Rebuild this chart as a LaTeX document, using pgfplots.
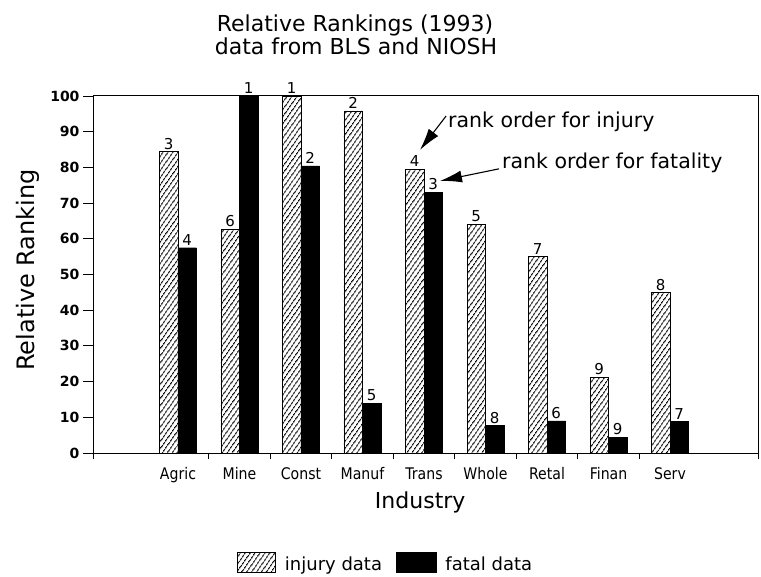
\documentclass[border=0pt]{standalone}
\usepackage{pgfplots}
\pgfplotsset{compat=1.18}
\usepackage{pgfplotstable}
\usepackage{fontspec}
\setmainfont{DejaVu Sans}
\newfontfamily\condfont[FakeStretch=0.88]{DejaVu Sans}
\usetikzlibrary{patterns.meta,arrows.meta}

\pgfplotstableread{
x y r
0 84.4 3
1 62.7 6
2 100 1
3 95.8 2
4 79.5 4
5 64.1 5
6 55.0 7
7 21.2 9
8 44.9 8
}\injury

\pgfplotstableread{
x y r
0 57.5 4
1 100 1
2 80.4 2
3 13.9 5
4 73.0 3
5 7.7 8
6 9.0 6
7 4.4 9
8 8.9 7
}\fatal

\begin{document}
\begin{tikzpicture}
\useasboundingbox (0bp,0bp) rectangle (761bp,577bp);
\fill[white] (0bp,0bp) rectangle (761bp,577bp);
\node[anchor=base,inner sep=0pt,font=\fontsize{22bp}{26bp}\selectfont] at (355bp,545bp) {Relative Rankings (1993)};
\node[anchor=base,inner sep=0pt,font=\fontsize{22bp}{26bp}\selectfont] at (356bp,522bp) {data from BLS and NIOSH};
\node[anchor=base,rotate=90,inner sep=0pt,font=\fontsize{24bp}{28bp}\selectfont] at (34bp,307bp) {Relative Ranking};
\begin{axis}[
  at={(93bp,124bp)}, anchor=south west,
  scale only axis, width=665bp, height=357bp,
  xmin=-1.382, xmax=9.431, ymin=0, ymax=100,
  ybar=0pt, bar width=18.5bp,
  clip=false,
  axis line style={line width=1bp},
  tick align=outside, tick pos=left,
  xtick={0,...,8},
  xticklabels={Agric,Mine,Const,Manuf,Trans,Whole,Retal,Finan,Serv},
  every major x tick/.append style={draw=none},
  minor xtick={-1.382,0.5,1.5,2.5,3.5,4.5,5.5,6.5,7.5,9.431},
  minor tick length=6bp,
  major tick length=10bp,
  every tick/.append style={black, line width=0.9bp},
  ytick={0,10,...,100},
  /pgf/number format/assume math mode=true,
  yticklabel style={font=\fontsize{14bp}{16bp}\selectfont\bfseries},
  xticklabel style={font=\condfont\fontsize{16bp}{18bp}\selectfont, yshift=-1bp},
  xlabel={Industry},
  xlabel style={at={(axis description cs:0.492,0)}, anchor=base, yshift=-55bp, inner sep=0pt, font=\fontsize{22bp}{26bp}\selectfont},
  nodes near coords, point meta=explicit symbolic,
  every node near coord/.append style={font=\fontsize{15bp}{17bp}\selectfont, black, anchor=south, inner sep=2bp},
  legend columns=2,
  legend style={at={(axis description cs:0.44,-0.308)}, anchor=center, draw=none, fill=none,
    font=\fontsize{18bp}{20bp}\selectfont,
    /tikz/every odd column/.append style={column sep=7bp},
    /tikz/every even column/.append style={column sep=12bp}},
]
\addplot[draw=black, line width=0.9bp, pattern={Lines[angle=55,distance=3.6bp,line width=1bp]}, bar shift=-9.25bp,
  legend image code/.code={\draw[draw=black, line width=0.9bp, pattern={Lines[angle=55,distance=3.6bp,line width=1bp]}] (0bp,-8bp) rectangle (38bp,12bp);}]
  table[x=x,y=y,meta=r]{\injury};
\addplot[draw=black, fill=black, bar shift=9.25bp,
  legend image code/.code={\draw[draw=black, fill=black] (0bp,-8bp) rectangle (40bp,12bp);}]
  table[x=x,y=y,meta=r]{\fatal};
\legend{injury data, fatal data}
\node[anchor=base west, inner sep=0pt, font=\fontsize{20.5bp}{24bp}\selectfont] at (axis cs:4.39,91.3) {rank order for injury};
\node[anchor=base west, inner sep=0pt, font=\fontsize{20.5bp}{24bp}\selectfont] at (axis cs:5.268,79.8) {rank order for fatality};
\draw[line width=1.1bp, -{Latex[length=22bp,width=12bp]}] (axis cs:4.36,94.4) -- (axis cs:3.935,84.9);
\draw[line width=1.1bp, -{Latex[length=22bp,width=12bp]}] (axis cs:5.22,79.6) -- (axis cs:4.26,76.2);
\end{axis}
\end{tikzpicture}
\end{document}
